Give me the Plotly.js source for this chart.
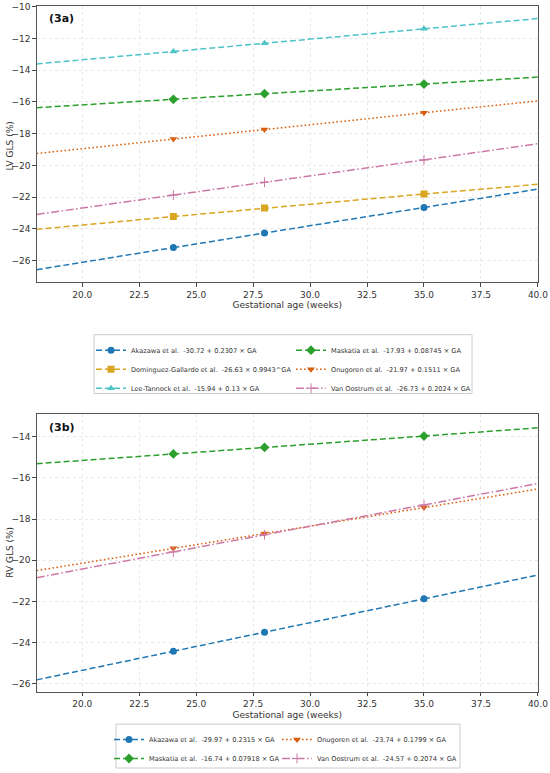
<!DOCTYPE html>
<html><head><meta charset="utf-8">
<script src="https://cdn.plot.ly/plotly-3.0.1.min.js"></script>
<style>html,body{margin:0;padding:0;background:#fff}</style></head>
<body><div id="chart" style="width:550px;height:773px"></div>
<script>
// Gestational age points (line ends at 18 and 40, markers at 24, 28, 35)
const GA = [18, 24, 28, 35, 40];

// LV GLS (%) – panel 3a
const lvLabels = [
  "Akazawa et al.  -30.72 + 0.2307 × GA",
  "Dominguez-Gallardo et al.  -26.63 × 0.9943^GA",
  "Lee-Tannock et al.  -15.94 + 0.13 × GA",
  "Maskatia et al.  -17.93 + 0.08745 × GA",
  "Onugoren et al.  -21.97 + 0.1511 × GA",
  "Van Oostrum et al.  -26.73 + 0.2024 × GA"
];
const lvAkazawa   = [-26.57, -25.18, -24.26, -22.65, -21.49];
const lvDominguez = [-24.03, -23.22, -22.69, -21.80, -21.19];
const lvLee       = [-13.60, -12.82, -12.30, -11.39, -10.74];
const lvMaskatia  = [-16.36, -15.83, -15.48, -14.87, -14.43];
const lvOnugoren  = [-19.25, -18.34, -17.74, -16.68, -15.93];
const lvVan       = [-23.09, -21.87, -21.06, -19.65, -18.63];

// RV GLS (%) – panel 3b
const rvLabels = [
  "Akazawa et al.  -29.97 + 0.2315 × GA",
  "Maskatia et al.  -16.74 + 0.07918 × GA",
  "Onugoren et al.  -23.74 + 0.1799 × GA",
  "Van Oostrum et al.  -24.57 + 0.2074 × GA"
];
const rvAkazawa  = [-25.80, -24.41, -23.49, -21.87, -20.71];
const rvMaskatia = [-15.31, -14.84, -14.52, -13.97, -13.57];
const rvOnugoren = [-20.50, -19.42, -18.70, -17.44, -16.54];
const rvVan      = [-20.84, -19.59, -18.76, -17.31, -16.27];

const xTicks = [20, 22.5, 25, 27.5, 30, 32.5, 35, 37.5, 40];

const DASH = '6px,3px', DOT = '1.6px,2.4px', DASHDOT = '8px,2.5px,1.6px,2.5px';
const STY = {
  Akazawa:   {color:'#1f77b4', dash:DASH, symbol:'circle', size:7},
  Dominguez: {color:'#daa520', dash:DASH, symbol:'square', size:7},
  Lee:       {color:'#4cc3c6', dash:DASH, symbol:'triangle-up', size:7},
  Maskatia:  {color:'#2ca02c', dash:DASH, symbol:'diamond', size:7.5},
  Onugoren:  {color:'#d95f0e', dash:DOT, symbol:'triangle-down', size:7},
  Van:       {color:'#cc79a7', dash:DASHDOT, symbol:'cross-thin', size:7}
};

function sp(s){ return s.replace(/  /g, '\u00a0 '); }

const traces = [];
function addSeries(vals, label, sty, xa, ya, legend, rank){
  traces.push({
    x:[GA[0], GA[1], null, GA[3], GA[4]],
    y:[vals[0], vals[1], null, vals[3], vals[4]],
    xaxis:xa, yaxis:ya, mode:'lines', showlegend:false, hoverinfo:'skip',
    line:{color:sty.color, dash:sty.dash, width:1.5}
  });
  traces.push({
    x:GA.slice(1,4), y:vals.slice(1,4),
    xaxis:xa, yaxis:ya, mode:'lines+markers', name:sp(label), legend:legend, legendrank:rank,
    line:{color:sty.color, dash:sty.dash, width:1.5},
    marker:{color:sty.color, symbol:sty.symbol, size:sty.size,
            line:{color:sty.color, width: sty.symbol==='cross-thin'?1:0}}
  });
}
addSeries(lvAkazawa,   lvLabels[0], STY.Akazawa,   'x','y','legend',1);
addSeries(lvDominguez, lvLabels[1], STY.Dominguez, 'x','y','legend',2);
addSeries(lvLee,       lvLabels[2], STY.Lee,       'x','y','legend',3);
addSeries(lvMaskatia,  lvLabels[3], STY.Maskatia,  'x','y','legend4',1);
addSeries(lvOnugoren,  lvLabels[4], STY.Onugoren,  'x','y','legend4',2);
addSeries(lvVan,       lvLabels[5], STY.Van,       'x','y','legend4',3);

addSeries(rvAkazawa,  rvLabels[0], STY.Akazawa,  'x2','y2','legend2',1);
addSeries(rvMaskatia, rvLabels[1], STY.Maskatia, 'x2','y2','legend2',2);
addSeries(rvOnugoren, rvLabels[2], STY.Onugoren, 'x2','y2','legend3',1);
addSeries(rvVan,      rvLabels[3], STY.Van,      'x2','y2','legend3',2);

const F = 'DejaVu Sans, sans-serif';
function xax(anchor){
  return {domain:[0.0667,0.978], range:[18,40], anchor:anchor, automargin:false,
    tickvals:xTicks, tickformat:'.1f', ticks:'outside', ticklen:3.5, tickcolor:'#444',
    tickfont:{size:9, color:'#333', family:F},
    showline:true, mirror:true, linecolor:'#555', linewidth:1,
    showgrid:true, gridcolor:'#e4e4e4', griddash:'dot', gridwidth:0.8, zeroline:false,
    title:{text:'Gestational age (weeks)', font:{size:9, color:'#333', family:F}, standoff:3}};
}
function yax(anchor, dom, rng){
  return {domain:dom, range:rng, anchor:anchor, dtick:2, automargin:false, ticks:'outside', ticklen:3.5, tickcolor:'#444',
    tickfont:{size:9, color:'#333', family:F},
    showline:true, mirror:true, linecolor:'#555', linewidth:1,
    showgrid:true, gridcolor:'#e4e4e4', griddash:'dot', gridwidth:0.8, zeroline:false};
}

const legFont = {size:6.6, color:'#333', family:F};
function vleg(xpx, ypx){
  return {orientation:'v', x:xpx/550, y:1-ypx/773, xanchor:'left', yanchor:'top',
    borderwidth:0, bgcolor:'rgba(0,0,0,0)', font:legFont, itemwidth:30, tracegroupgap:0};
}
const layout = {
  width:550, height:773, margin:{l:0,r:0,t:0,b:0},
  paper_bgcolor:'#fff', plot_bgcolor:'#fff', font:{family:F, color:'#333'},
  xaxis: xax('y'),
  yaxis: yax('x', [0.6335,0.9922], [-27.36,-9.95]),
  xaxis2: xax('y2'),
  yaxis2: yax('x2', [0.1018,0.4618], [-26.37,-12.92]),
  legend: vleg(91, 337),
  legend4: vleg(291, 337),
  legend2: vleg(109, 728),
  legend3: vleg(277, 728),
  shapes:[
    {type:'rect', xref:'paper', yref:'paper', x0:94/550, x1:472/550, y0:1-395/773, y1:1-336/773,
     line:{color:'#cccccc', width:1}, fillcolor:'rgba(255,255,255,0)', layer:'below'},
    {type:'rect', xref:'paper', yref:'paper', x0:116/550, x1:460/550, y0:1-771/773, y1:1-727/773,
     line:{color:'#cccccc', width:1}, fillcolor:'rgba(255,255,255,0)', layer:'below'}
  ],
  annotations:[
    {text:'<b>(3a)</b>', xref:'paper', yref:'paper', x:0.085, y:1-19/773, xanchor:'left', yanchor:'middle',
     showarrow:false, font:{size:11, color:'#111', family:F}},
    {text:'<b>(3b)</b>', xref:'paper', yref:'paper', x:0.085, y:1-429/773, xanchor:'left', yanchor:'middle',
     showarrow:false, font:{size:11, color:'#111', family:F}},
    {text:'LV GLS (%)', xref:'paper', yref:'paper', x:10/550, y:1-147/773, xanchor:'center', yanchor:'middle',
     textangle:-90, showarrow:false, font:{size:9, color:'#333', family:F}},
    {text:'RV GLS (%)', xref:'paper', yref:'paper', x:10/550, y:1-555/773, xanchor:'center', yanchor:'middle',
     textangle:-90, showarrow:false, font:{size:9, color:'#333', family:F}}
  ]
};

Plotly.newPlot('chart', traces, layout, {displayModeBar:false, staticPlot:true});
</script></body></html>
